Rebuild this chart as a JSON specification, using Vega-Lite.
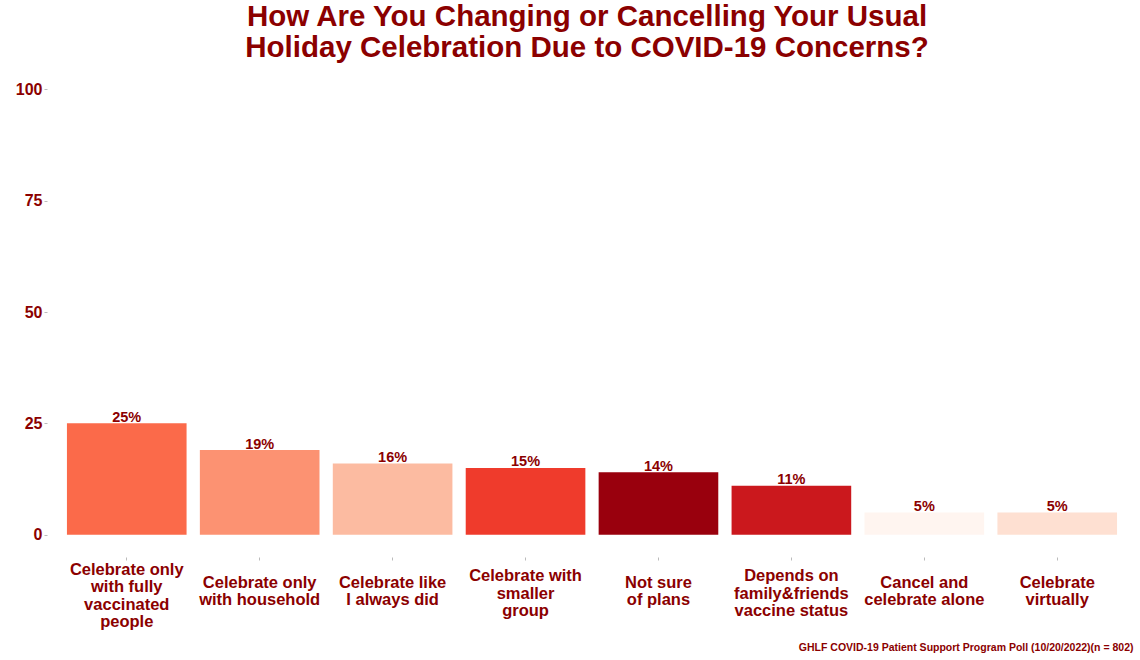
{
  "$schema": "https://vega.github.io/schema/vega-lite/v6.json",
  "autosize": "none",
  "width": 1090,
  "height": 490,
  "padding": {"left": 47, "top": 67, "right": 3, "bottom": 103},
  "background": "white",
  "title": {
    "text": ["How Are You Changing or Cancelling Your Usual", "Holiday Celebration Due to COVID-19 Concerns?"],
    "font": "Liberation Sans",
    "fontSize": 29.5,
    "fontWeight": "bold",
    "color": "#8B0000",
    "lineHeight": 31,
    "anchor": "middle",
    "offset": 4,
    "dx": -5
  },
  "data": {
    "values": [
      {"option": "Celebrate only|with fully|vaccinated|people", "pct": 25, "label": "25%", "color": "#FB6A4A"},
      {"option": "Celebrate only|with household", "pct": 19, "label": "19%", "color": "#FC9272"},
      {"option": "Celebrate like|I always did", "pct": 16, "label": "16%", "color": "#FCBBA1"},
      {"option": "Celebrate with|smaller|group", "pct": 15, "label": "15%", "color": "#EF3B2C"},
      {"option": "Not sure|of plans", "pct": 14, "label": "14%", "color": "#99000D"},
      {"option": "Depends on|family&friends|vaccine status", "pct": 11, "label": "11%", "color": "#CB181D"},
      {"option": "Cancel and|celebrate alone", "pct": 5, "label": "5%", "color": "#FFF5F0"},
      {"option": "Celebrate|virtually", "pct": 5, "label": "5%", "color": "#FEE0D2"}
    ]
  },
  "config": {
    "view": {"stroke": null},
    "font": "Liberation Sans"
  },
  "encoding": {
    "x": {
      "field": "option",
      "type": "nominal",
      "sort": null,
      "scale": {"paddingInner": 0.1, "paddingOuter": 0.15},
      "axis": {
        "title": "GHLF COVID-19 Patient Support Program Poll (10/20/2022)(n = 802)",
        "titleFont": "Liberation Sans",
        "titleFontSize": 10.5,
        "titleFontWeight": "bold",
        "titleColor": "#8B0000",
        "titleAnchor": "end",
        "titleAlign": "right",
        "titleBaseline": "middle",
        "titleX": 1086,
        "titleY": 90,
        "labelExpr": "split(datum.label, '|')",
        "labelAngle": 0,
        "labelFont": "Liberation Sans",
        "labelFontSize": 16.5,
        "labelFontWeight": "bold",
        "labelColor": "#8B0000",
        "labelLineHeight": 17.5,
        "labelBaseline": "alphabetic",
        "labelPadding": 27,
        "labelLimit": 0,
        "tickSize": 3,
        "tickColor": "#aaaaaa",
        "tickWidth": 0.8,
        "domain": false,
        "grid": false,
        "encoding": {
          "labels": {
            "dy": {"value": {"signal": "-(length(split(datum.value, '|')) - 2) * 6.5"}}
          }
        }
      }
    }
  },
  "layer": [
    {
      "mark": {"type": "bar"},
      "encoding": {
        "y": {
          "field": "pct",
          "type": "quantitative",
          "scale": {"domain": [-5, 105], "nice": false, "zero": false},
          "axis": {
            "title": null,
            "values": [0, 25, 50, 75, 100],
            "labelFont": "Liberation Sans",
            "labelFontSize": 16,
            "labelFontWeight": "bold",
            "labelColor": "#8B0000",
            "labelPadding": 2,
            "tickSize": 3,
            "tickColor": "#aaaaaa",
            "tickWidth": 0.8,
            "domain": false,
            "grid": false
          }
        },
        "y2": {"datum": 0},
        "color": {"field": "color", "type": "nominal", "scale": null, "legend": null}
      }
    },
    {
      "mark": {"type": "text", "baseline": "alphabetic", "dy": -1.5, "font": "Liberation Sans", "fontSize": 14.5, "fontWeight": "bold", "color": "#8B0000"},
      "encoding": {
        "y": {"field": "pct", "type": "quantitative"},
        "text": {"field": "label"}
      }
    }
  ]
}
